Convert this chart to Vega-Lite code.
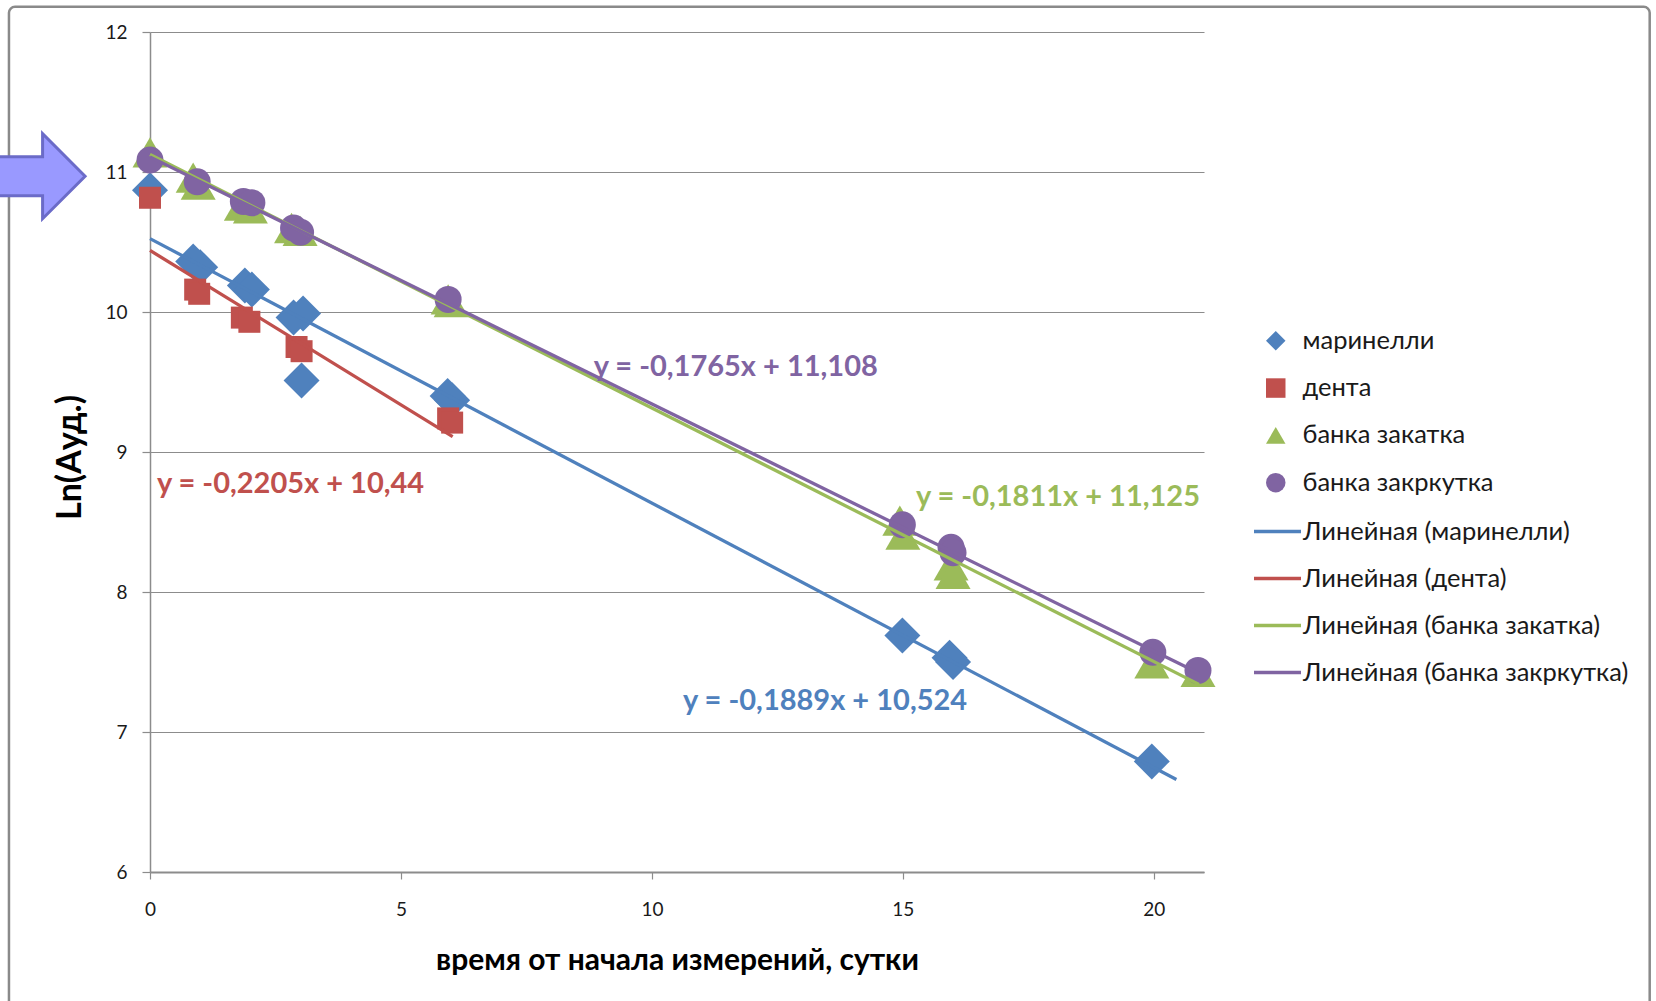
{
  "$schema": "https://vega.github.io/schema/vega-lite/v6.json",
  "width": 1054,
  "height": 840,
  "autosize": {"type": "none"},
  "padding": {"left": 150, "top": 32, "right": 452, "bottom": 129},
  "background": "white",
  "config": {
    "view": {"stroke": null},
    "font": "Lato",
    "axis": {
      "labelFont": "Lato",
      "labelFontSize": 19,
      "labelColor": "#1a1a1a",
      "labelFlush": false,
      "titleFont": "Lato",
      "titleFontWeight": "bold",
      "titleColor": "#000000",
      "gridColor": "#8c8c8c",
      "gridWidth": 1.2,
      "domainColor": "#8c8c8c",
      "domainWidth": 1.5,
      "tickColor": "#8c8c8c",
      "tickWidth": 1.2
    },
    "legend": {
      "title": null,
      "labelFontSize": 25.5,
      "padding": 0,
      "labelFont": "Lato",
      "labelColor": "#1a1a1a",
      "labelLimit": 500
    }
  },
  "datasets": {
    "pts": [
      {"s": "маринелли", "x": 0, "y": 10.87},
      {"s": "маринелли", "x": 0.86, "y": 10.36},
      {"s": "маринелли", "x": 1.0, "y": 10.32},
      {"s": "маринелли", "x": 1.89, "y": 10.19},
      {"s": "маринелли", "x": 2.03, "y": 10.16},
      {"s": "маринелли", "x": 2.86, "y": 9.96},
      {"s": "маринелли", "x": 3.05, "y": 9.99},
      {"s": "маринелли", "x": 3.02, "y": 9.51},
      {"s": "маринелли", "x": 5.93, "y": 9.40},
      {"s": "маринелли", "x": 6.02, "y": 9.37},
      {"s": "маринелли", "x": 14.99, "y": 7.69},
      {"s": "маринелли", "x": 15.93, "y": 7.53},
      {"s": "маринелли", "x": 16.0, "y": 7.50},
      {"s": "маринелли", "x": 19.96, "y": 6.79},
      {"s": "дента", "x": 0, "y": 10.816},
      {"s": "дента", "x": 0.90, "y": 10.16},
      {"s": "дента", "x": 0.98, "y": 10.13},
      {"s": "дента", "x": 1.83, "y": 9.96},
      {"s": "дента", "x": 1.98, "y": 9.93},
      {"s": "дента", "x": 2.92, "y": 9.75},
      {"s": "дента", "x": 3.02, "y": 9.72},
      {"s": "дента", "x": 5.94, "y": 9.24},
      {"s": "дента", "x": 6.02, "y": 9.21},
      {"s": "банка закатка", "x": 0, "y": 11.14},
      {"s": "банка закатка", "x": 0.86, "y": 10.96},
      {"s": "банка закатка", "x": 0.96, "y": 10.91},
      {"s": "банка закатка", "x": 1.82, "y": 10.76},
      {"s": "банка закатка", "x": 2.0, "y": 10.74},
      {"s": "банка закатка", "x": 2.82, "y": 10.60},
      {"s": "банка закатка", "x": 2.99, "y": 10.58},
      {"s": "банка закатка", "x": 5.94, "y": 10.09},
      {"s": "банка закатка", "x": 6.0, "y": 10.07},
      {"s": "банка закатка", "x": 14.94, "y": 8.51},
      {"s": "банка закатка", "x": 15.0, "y": 8.41},
      {"s": "банка закатка", "x": 15.96, "y": 8.19},
      {"s": "банка закатка", "x": 16.0, "y": 8.13},
      {"s": "банка закатка", "x": 19.96, "y": 7.49},
      {"s": "банка закатка", "x": 20.88, "y": 7.43},
      {"s": "банка закркутка", "x": 0, "y": 11.086},
      {"s": "банка закркутка", "x": 0.94, "y": 10.93},
      {"s": "банка закркутка", "x": 1.86, "y": 10.79},
      {"s": "банка закркутка", "x": 2.03, "y": 10.78},
      {"s": "банка закркутка", "x": 2.86, "y": 10.60},
      {"s": "банка закркутка", "x": 3.0, "y": 10.57},
      {"s": "банка закркутка", "x": 5.94, "y": 10.09},
      {"s": "банка закркутка", "x": 14.99, "y": 8.48},
      {"s": "банка закркутка", "x": 15.96, "y": 8.32},
      {"s": "банка закркутка", "x": 16.0, "y": 8.28},
      {"s": "банка закркутка", "x": 19.98, "y": 7.57},
      {"s": "банка закркутка", "x": 20.88, "y": 7.44}
    ],
    "fits": [
      {"s": "Линейная (маринелли)", "x": 0, "y": 10.524},
      {"s": "Линейная (маринелли)", "x": 20.45, "y": 6.661},
      {"s": "Линейная (дента)", "x": 0, "y": 10.44},
      {"s": "Линейная (дента)", "x": 6.03, "y": 9.110},
      {"s": "Линейная (банка закатка)", "x": 0, "y": 11.125},
      {"s": "Линейная (банка закатка)", "x": 20.9, "y": 7.340},
      {"s": "Линейная (банка закркутка)", "x": 0, "y": 11.108},
      {"s": "Линейная (банка закркутка)", "x": 20.9, "y": 7.419}
    ],
    "eqs": [
      {"s": "маринелли", "x": 13.45, "y": 7.22, "t": "y = -0,1889x + 10,524"},
      {"s": "дента", "x": 2.80, "y": 8.77, "t": "y = -0,2205x + 10,44"},
      {"s": "банка закатка", "x": 18.09, "y": 8.68, "t": "y = -0,1811x + 11,125"},
      {"s": "банка закркутка", "x": 11.67, "y": 9.61, "t": "y = -0,1765x + 11,108"}
    ]
  },
  "layer": [
    {
      "data": {"values": [{"a": 1}]},
      "mark": {"type": "rect", "fill": null, "fillOpacity": 0, "stroke": "#8a8a8a", "strokeWidth": 2.5, "cornerRadius": 6},
      "encoding": {
        "x": {"datum": -2.81, "type": "quantitative"},
        "x2": {"datum": 29.88},
        "y": {"datum": 12.18, "type": "quantitative"},
        "y2": {"datum": 5.0}
      }
    },
    {
      "data": {"name": "pts"},
      "encoding": {
        "x": {
          "field": "x", "type": "quantitative",
          "scale": {"domain": [0, 21], "nice": false, "zero": false},
          "axis": {
            "title": "время от начала измерений, сутки",
            "titleFontSize": 30, "titlePadding": 26,
            "values": [0, 5, 10, 15, 20], "format": "d",
            "grid": false, "tickSize": 7, "labelPadding": 21,
            "domainWidth": 2
          }
        },
        "y": {
          "field": "y", "type": "quantitative",
          "scale": {"domain": [6, 12], "nice": false, "zero": false},
          "axis": {
            "title": "Ln(Aуд.)",
            "titleFontSize": 34, "titleX": -80, "titleY": 425,
            "titleAngle": -90, "titleAlign": "center", "titleBaseline": "middle",
            "values": [6, 7, 8, 9, 10, 11, 12], "format": "d",
            "grid": true, "tickSize": 8, "labelPadding": 15
          }
        },
        "color": {
          "field": "s", "type": "nominal",
          "scale": {
            "domain": ["маринелли", "дента", "банка закатка", "банка закркутка"],
            "range": ["#4F81BD", "#C0504D", "#9BBB59", "#8064A2"]
          },
          "legend": {
            "orient": "none", "legendX": 1113, "legendY": 296,
            "symbolSize": 380, "labelOffset": 14, "rowPadding": 20.3
          }
        },
        "shape": {
          "field": "s", "type": "nominal",
          "scale": {
            "domain": ["маринелли", "дента", "банка закатка", "банка закркутка"],
            "range": ["diamond", "square", "triangle-up", "circle"]
          },
          "legend": {
            "orient": "none", "legendX": 1113, "legendY": 296,
            "symbolSize": 380, "labelOffset": 14, "rowPadding": 20.3
          }
        }
      },
      "layer": [
        {
          "transform": [{"filter": {"field": "s", "equal": "маринелли"}}],
          "mark": {"type": "point", "filled": true, "opacity": 1, "strokeWidth": 0, "size": 1296}
        },
        {
          "transform": [{"filter": {"field": "s", "equal": "дента"}}],
          "mark": {"type": "point", "filled": true, "opacity": 1, "strokeWidth": 0, "size": 484}
        },
        {
          "transform": [{"filter": {"field": "s", "equal": "банка закатка"}}],
          "mark": {"type": "point", "filled": true, "opacity": 1, "strokeWidth": 0, "size": 1225}
        },
        {
          "transform": [{"filter": {"field": "s", "equal": "банка закркутка"}}],
          "mark": {"type": "point", "filled": true, "opacity": 1, "strokeWidth": 0, "size": 729}
        }
      ]
    },
    {
      "data": {"name": "fits"},
      "mark": {"type": "line", "strokeWidth": 3.3},
      "encoding": {
        "x": {"field": "x", "type": "quantitative"},
        "y": {"field": "y", "type": "quantitative"},
        "stroke": {
          "field": "s", "type": "nominal",
          "scale": {
            "domain": ["Линейная (маринелли)", "Линейная (дента)", "Линейная (банка закатка)", "Линейная (банка закркутка)"],
            "range": ["#4F81BD", "#C0504D", "#9BBB59", "#8064A2"]
          },
          "legend": {
            "orient": "none", "legendX": 1102, "legendY": 474,
            "symbolSize": 2209, "symbolStrokeWidth": 3.5, "symbolType": "stroke",
            "labelOffset": 0, "rowPadding": 8
          }
        }
      }
    },
    {
      "data": {"name": "eqs"},
      "mark": {"type": "text", "fontWeight": "bold", "fontSize": 29, "align": "center", "baseline": "middle", "font": "Lato"},
      "encoding": {
        "x": {"field": "x", "type": "quantitative"},
        "y": {"field": "y", "type": "quantitative"},
        "text": {"field": "t", "type": "nominal"},
        "color": {"field": "s", "type": "nominal"}
      }
    },
    {
      "data": {"values": [{"a": 1}]},
      "mark": {
        "type": "point", "filled": true, "opacity": 1,
        "shape": "M-1.3,-0.46 L0,-0.46 L0,-1 L1,0 L0,1 L0,0.46 L-1.3,0.46 Z",
        "size": 7225, "fill": "#9999FF", "stroke": "#6B6BC8", "strokeWidth": 3
      },
      "encoding": {
        "x": {"datum": -2.14, "type": "quantitative"},
        "y": {"datum": 10.97, "type": "quantitative"}
      }
    }
  ]
}
